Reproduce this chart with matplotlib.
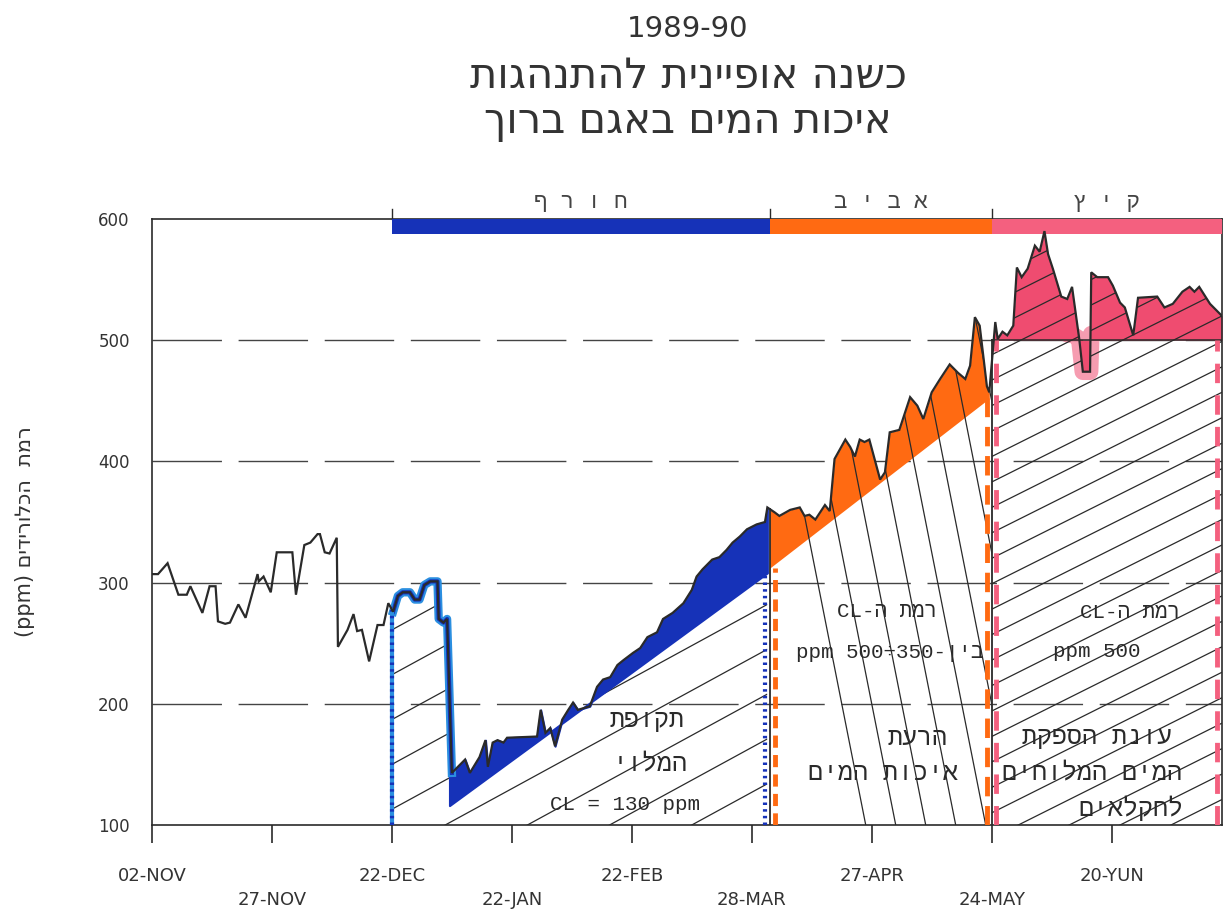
import matplotlib
matplotlib.use("Agg")
import matplotlib.pyplot as plt
import numpy as np
from matplotlib.path import Path

plt.rcParams["font.family"] = ["DejaVu Sans"]
TYPE = ["Liberation Mono", "DejaVu Sans Mono", "DejaVu Sans"]

# ---------------------------------------------------------------------------
# Data: chloride level in the lake, x measured in tick steps (0 = 02-NOV)
# ---------------------------------------------------------------------------
cl_x = [0.00, 0.05, 0.13, 0.22, 0.29, 0.32, 0.42, 0.48, 0.53, 0.55, 0.61, 0.65,
        0.72, 0.78, 0.88, 0.89, 0.93, 0.99, 1.04, 1.17, 1.20, 1.27, 1.32, 1.38,
        1.40, 1.44, 1.48, 1.54, 1.55, 1.63, 1.68, 1.71, 1.75, 1.81, 1.88, 1.93,
        1.97, 2.01, 2.05, 2.09, 2.15, 2.19, 2.23, 2.27, 2.32, 2.38, 2.39, 2.43,
        2.46, 2.50, 2.61, 2.65, 2.73, 2.78, 2.80, 2.84, 2.88, 2.93, 2.96, 3.21,
        3.24, 3.28, 3.32, 3.36, 3.42, 3.47, 3.51, 3.55, 3.65, 3.71, 3.76, 3.82,
        3.88, 3.93, 4.01, 4.07, 4.13, 4.21, 4.26, 4.34, 4.43, 4.50, 4.54, 4.59,
        4.67, 4.73, 4.79, 4.84, 4.90, 4.96, 5.04, 5.11, 5.13, 5.19, 5.23, 5.32,
        5.40, 5.44, 5.48, 5.53, 5.57, 5.61, 5.65, 5.69, 5.78, 5.82, 5.86, 5.90,
        5.94, 5.98, 6.07, 6.11, 6.15, 6.23, 6.32, 6.38, 6.43, 6.50, 6.57, 6.65,
        6.72, 6.78, 6.82, 6.86, 6.90, 6.96, 6.98, 7.03, 7.05, 7.09, 7.13, 7.18,
        7.21, 7.25, 7.30, 7.36, 7.40, 7.44, 7.47, 7.51, 7.58, 7.63, 7.67, 7.73,
        7.76, 7.82, 7.83, 7.88, 7.97, 8.01, 8.07, 8.11, 8.18, 8.22, 8.38, 8.44,
        8.51, 8.59, 8.65, 8.69, 8.73, 8.82, 8.92]
cl_ppm = [307, 307, 316, 290, 290, 297, 275, 297, 297, 268, 266, 267,
          282, 271, 307, 301, 305, 292, 325, 325, 290, 331, 333, 340,
          340, 325, 324, 337, 247, 261, 274, 260, 261, 235, 265, 265,
          283, 276, 289, 292, 292, 286, 286, 298, 301, 301, 270, 267,
          270, 143, 154, 143, 156, 170, 148, 168, 170, 168, 172, 173,
          195, 176, 180, 165, 187, 195, 201, 195, 198, 214, 220, 222,
          232, 236, 242, 246, 255, 259, 270, 275, 283, 294, 305, 311,
          319, 321, 327, 333, 338, 344, 348, 350, 362, 358, 355, 360,
          362, 355, 356, 352, 358, 364, 359, 402, 418, 412, 404, 418,
          416, 418, 385, 391, 424, 426, 453, 446, 435, 457, 468, 480,
          473, 468, 479, 519, 512, 462, 457, 515, 501, 507, 504, 512,
          560, 552, 559, 578, 573, 590, 571, 559, 536, 534, 544, 501,
          474, 474, 556, 552, 552, 545, 531, 527, 504, 535, 536, 527,
          530, 540, 544, 540, 544, 530, 520]

tick_labels = ["02-NOV", "27-NOV", "22-DEC", "22-JAN", "22-FEB",
               "28-MAR", "27-APR", "24-MAY", "20-YUN"]
y_ticks = [100, 200, 300, 400, 500, 600]

season_names = ["חורף", "אביב", "קיץ"]
season_edges = [2.0, 5.15, 7.0, 8.92]

# filling line of winter and permitted rise in spring, summer supply limit
winter_base_x = [2.48, 5.13]
winter_base_ppm = [116, 308]
spring_base_x = [5.15, 6.98]
spring_base_ppm = [312, 452]
summer_limit = 500

BLUE = "#1632b8"
BLUE_LIGHT = "#2b8fe0"
ORANGE = "#ff6a12"
PINK = "#ef4c70"
PINK_BAR = "#f4607f"
INK = "#2a2a2a"


def rtl(s):
    # visual order for right-to-left text
    return s[::-1]


x = np.array(cl_x)
y = np.array(cl_ppm, dtype=float)

fig = plt.figure(figsize=(12.29, 9.22), dpi=100)
ax = fig.add_axes([152 / 1229, 97 / 922, 1070 / 1229, 606 / 922])
ax.set_xlim(0, 8.92)
ax.set_ylim(100, 600)


def region_path(x0, x1):
    """Closed path of the area under the chloride curve between x0 and x1."""
    m = (x > x0) & (x < x1)
    xs = np.concatenate([[x0], x[m], [x1]])
    ys = np.interp(xs, x, y)
    verts = [(x0, 100)] + list(zip(xs, ys)) + [(x1, 100), (x0, 100)]
    return Path(verts, closed=True)


def hatch(path, lines, lw=0.9):
    for (xa, ya), (xb, yb) in lines:
        ln, = ax.plot([xa, xb], [ya, yb], color=INK, lw=lw, zorder=3,
                      solid_capstyle="butt")
        ln.set_clip_path(path, ax.transData)


# --- winter: filling period ---
w0, w1 = season_edges[0], winter_base_x[1]
wpath = region_path(w0, w1)
hatch(wpath, [((w0, c), (w1, c + 54 * (w1 - w0))) for c in np.arange(-220, 620, 37)])
m = (x >= winter_base_x[0]) & (x <= winter_base_x[1])
xs = np.concatenate([[winter_base_x[0]], x[m], [winter_base_x[1]]])
ax.fill_between(xs, np.interp(xs, x, y), np.interp(xs, winter_base_x, winter_base_ppm),
                color=BLUE, lw=1.5, edgecolor=BLUE, zorder=4)
mw = (x >= w0 - 0.02) & (x <= 2.52)
ax.plot(x[mw], y[mw], color=BLUE_LIGHT, lw=6, zorder=4, solid_joinstyle="round")
ax.plot(x[mw], y[mw], color=BLUE, lw=3, zorder=4, solid_joinstyle="round")

# --- spring: water quality deterioration ---
s0, s1 = season_edges[1], season_edges[2]
spath = region_path(s0, s1)
m = (x >= spring_base_x[0]) & (x <= spring_base_x[1])
xs = np.concatenate([[spring_base_x[0]], x[m], [spring_base_x[1]]])
ax.fill_between(xs, np.interp(xs, x, y), np.interp(xs, spring_base_x, spring_base_ppm),
                color=ORANGE, lw=0, zorder=2)
hatch(spath, [((c, 600), (c + 1.0, 100)) for c in np.arange(4.95, 7.1, 0.25)])

# --- summer: supply of saline water to farmers ---
u0, u1 = season_edges[2], season_edges[3]
upath = region_path(u0, u1)
m = x >= u0
xs = np.concatenate([[u0], x[m]])
ys = np.interp(xs, x, y)
ax.fill_between(xs, ys, summer_limit, color=PINK, lw=0, zorder=2)
# soft pink halo around the dip below the supply limit
near_dip = (xs > 7.6) & (xs < 7.85)
glow = np.where(near_dip, np.minimum(ys, summer_limit + 5), np.nan)
ax.plot(xs, glow, color=PINK, lw=12, alpha=0.55, zorder=2,
        solid_capstyle="round", solid_joinstyle="round")
hatch(upath, [((u0, c), (u1, c + 49.5 * (u1 - u0))) for c in np.arange(-100, 620, 21)])
ax.plot([u0, u1], [summer_limit, summer_limit], color=INK, lw=1.1, zorder=3)

# chloride curve
ax.plot(x, y, color=INK, lw=1.6, zorder=5, solid_joinstyle="miter")

# season boundary markers
ax.plot([w0, w0], [100, np.interp(w0, x, y)], color=BLUE_LIGHT, lw=3, zorder=4)
ax.plot([w0, w0], [100, np.interp(w0, x, y)], color=BLUE, lw=3,
        ls=(0, (0.6, 1.0)), zorder=4)
ax.plot([w1 - 0.02] * 2, [100, winter_base_ppm[1]], color=BLUE, lw=3,
        ls=(0, (0.6, 1.0)), zorder=4)
ax.plot([s0, s0], [100, np.interp(s0, x, y)], color=INK, lw=1.3, zorder=5)
ax.plot([s0 + 0.04] * 2, [100, spring_base_ppm[0]], color=ORANGE, lw=3.5,
        ls=(0, (2.5, 1.5)), zorder=4)
ax.plot([spring_base_x[1] - 0.02] * 2, [100, spring_base_ppm[1]], color=ORANGE,
        lw=3.5, ls=(0, (4, 2)), zorder=4)
ax.plot([u0, u0], [100, summer_limit], color=INK, lw=1.3, zorder=5)
for xv in (u0 + 0.04, u1 - 0.04):
    ax.plot([xv, xv], [100, summer_limit], color=PINK_BAR, lw=3.5,
            ls=(0, (4, 2.5)), zorder=4)

# season bar along the top
bar_colors = [BLUE, ORANGE, PINK_BAR]
for i, (name, col) in enumerate(zip(season_names, bar_colors)):
    a, b = season_edges[i], season_edges[i + 1]
    ax.fill_between([a, b], 588, 600, color=col, lw=0, zorder=4)
    ax.plot([a, a], [600, 608], color=INK, lw=1, clip_on=False)
    ax.text((a + b) / 2, 614, " ".join(rtl(name)), ha="center", va="center",
            fontsize=16, color="#444", family=TYPE)

# grid
for v in y_ticks[1:-1]:
    ax.plot([0, 8.92], [v, v], color="#444", lw=1.0, dashes=(50, 12), zorder=1)

# annotations
heb = dict(ha="center", va="center", fontsize=18, color=INK, zorder=6, family=TYPE)
lat = dict(heb, fontsize=15)
ax.text(4.13, 187, rtl("תקופת"), **heb)
ax.text(4.15, 151, rtl("המלוי"), **heb)
ax.text(3.94, 117, "CL = 130 ppm", **lat)
ax.text(6.13, 276, "CL-" + rtl("רמת ה"), **lat)
ax.text(6.15, 242, "ppm 500÷350-" + rtl("בין"), **lat)
ax.text(6.38, 172, rtl("הרעת"), **heb)
ax.text(6.09, 143, rtl("איכות המים"), **heb)
ax.text(8.15, 275, "CL-" + rtl("רמת ה"), **lat)
ax.text(7.88, 243, "ppm 500", **lat)
ax.text(7.88, 173, rtl("עונת הספקת"), **heb)
ax.text(7.84, 143, rtl("המים המלוחים"), **heb)
ax.text(8.16, 114, rtl("לחקלאים"), **heb)

# axes
for sp in ax.spines.values():
    sp.set_color(INK)
    sp.set_linewidth(1.2)
ax.set_yticks(y_ticks)
ax.set_yticklabels([str(v) for v in y_ticks], fontsize=12, color="#333")
ax.tick_params(axis="y", length=0, pad=16)
ax.set_xticks(range(len(tick_labels)))
ax.set_xticklabels([lab if i % 2 == 0 else "\n" + lab
                    for i, lab in enumerate(tick_labels)], fontsize=13, color="#333")
ax.tick_params(axis="x", direction="out", length=13, width=1.2, pad=17, color=INK)
for t in ax.get_xticklabels():
    t.set_linespacing(1.45)

fig.text(25 / 1229, 1 - 532 / 922, "(ppm) " + rtl("רמת  הכלורידים"),
         rotation=90, ha="center", va="center", fontsize=15, color="#333")

fig.text(688 / 1229, 1 - 29 / 922, "1989-90", ha="center", va="center",
         fontsize=21, color="#333")
fig.text(688 / 1229, 1 - 76 / 922, rtl("כשנה אופיינית להתנהגות"), ha="center",
         va="center", fontsize=30, color="#333")
fig.text(688 / 1229, 1 - 121 / 922, rtl("איכות המים באגם ברוך"), ha="center",
         va="center", fontsize=30, color="#333")

fig.savefig("out.png", dpi=100)
